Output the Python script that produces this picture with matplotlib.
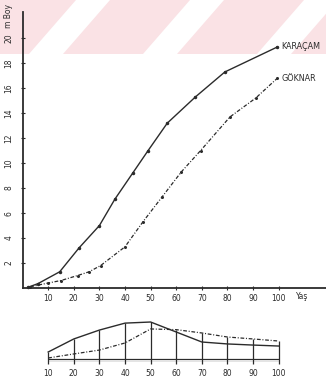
import matplotlib.pyplot as plt
import numpy as np
from matplotlib.patches import Polygon

# height growth curves (age in years, height in m)
age_kc = [2, 6, 14.5, 22, 30, 36, 43, 49, 56.5, 67.5, 79, 99.5]
height_kc = [0.05, 0.35, 1.3, 3.2, 5.0, 7.1, 9.2, 11.0, 13.2, 15.3, 17.3, 19.3]
age_gk = [3, 10, 15, 21.5, 26, 30.5, 40, 47, 54.5, 62, 69.5, 81, 91, 99.5]
height_gk = [0.1, 0.4, 0.6, 1.0, 1.3, 1.8, 3.3, 5.3, 7.3, 9.3, 11.0, 13.7, 15.2, 16.8]

# increment per decade (bottom panel)
decades = [10, 20, 30, 40, 50, 60, 70, 80, 90, 100]
inc_kc = [7.2, 16.6, 23, 28, 28.8, 21.6, 14.4, 13, 12.2, 11.5]
inc_gk = [2.9, 5.8, 8.6, 13.7, 23.8, 23.3, 20.9, 18, 16.6, 15.1]

y_ticks = [2, 4, 6, 8, 10, 12, 14, 16, 18, 20]
x_ticks = [10, 20, 30, 40, 50, 60, 70, 80, 90, 100]

INK = "#2b2b2b"
DASHDOT = (0, (3, 1.4, 0.8, 1.4))
W, H = 326, 379

fig = plt.figure(figsize=(W / 100, H / 100), dpi=100)

# faint pink diagonal watermark band at the top
bg = fig.add_axes([0, 0, 1, 1], zorder=-1)
bg.set_xlim(0, W)
bg.set_ylim(H, 0)
bg.axis("off")
band, shift, period, width = 54, 47, 114, 80
for x0 in np.arange(-4, W + period, period):
    poly = Polygon([(x0, 0), (x0 + width, 0), (x0 + width - shift, band), (x0 - shift, band)],
                   closed=True, facecolor="#fae2e5", edgecolor="none")
    bg.add_patch(poly)

# main chart
x0_px, xmax = 22.6, 118.5
ax = fig.add_axes([x0_px / W, (H - 288) / H, (W - x0_px) / W, 276 / H])
ax.set_facecolor("none")
ax.set_xlim(0, xmax)
ax.set_ylim(0, 22.1)
for s in ("top", "right"):
    ax.spines[s].set_visible(False)
for s in ("left", "bottom"):
    ax.spines[s].set_color(INK)
    ax.spines[s].set_linewidth(1.3)

ax.plot(age_kc, height_kc, color=INK, lw=1.0, marker="o", ms=1.5, clip_on=False)
ax.plot(age_gk, height_gk, color=INK, lw=0.9, ls=DASHDOT, marker="o", ms=1.2, clip_on=False)

ax.text(age_kc[-1] + 1.5, height_kc[-1], "KARAÇAM", fontsize=5.8, color=INK, va="center", ha="left")
ax.text(age_gk[-1] + 1.5, height_gk[-1], "GÖKNAR", fontsize=5.8, color=INK, va="center", ha="left")

ax.set_yticks(y_ticks)
ax.set_yticklabels([str(v) for v in y_ticks], rotation=90, va="center", fontsize=5.5, color=INK)
ax.set_xticks(x_ticks)
ax.set_xticklabels([str(v) for v in x_ticks], fontsize=5.5, color=INK)
ax.tick_params(axis="y", direction="inout", length=3, width=0.8, pad=5, colors=INK)
ax.tick_params(axis="x", direction="inout", length=3, width=0.8, pad=2.5, colors=INK)
ax.text(109, -0.72, "Yaş", fontsize=5.5, color=INK, ha="center", va="center")
ax.text(-5.7, 21.8, "m Boy", fontsize=5.5, color=INK, ha="center", va="center", rotation=90)

# bottom increment panel
ax2 = fig.add_axes([x0_px / W, (H - 362) / H, (W - x0_px) / W, 48.6 / H])
ax2.set_facecolor("none")
ax2.set_xlim(0, xmax)
ax2.set_ylim(0, 35)
for s in ax2.spines.values():
    s.set_visible(False)
tops = np.maximum(inc_kc, inc_gk)
ax2.vlines(decades, -1.5, tops, color=INK, lw=0.9, clip_on=False)
ax2.hlines([0, 2.2], decades[0], decades[-1], color=INK, lw=0.9)
ax2.plot(decades, inc_kc, color=INK, lw=1.0)
ax2.plot(decades, inc_gk, color=INK, lw=0.9, ls=DASHDOT)
ax2.set_yticks([])
ax2.set_xticks(decades)
ax2.set_xticklabels([str(v) for v in decades], fontsize=5.5, color=INK)
ax2.tick_params(axis="x", length=0, pad=5)

fig.savefig("out.png", dpi=100)
plt.close(fig)
